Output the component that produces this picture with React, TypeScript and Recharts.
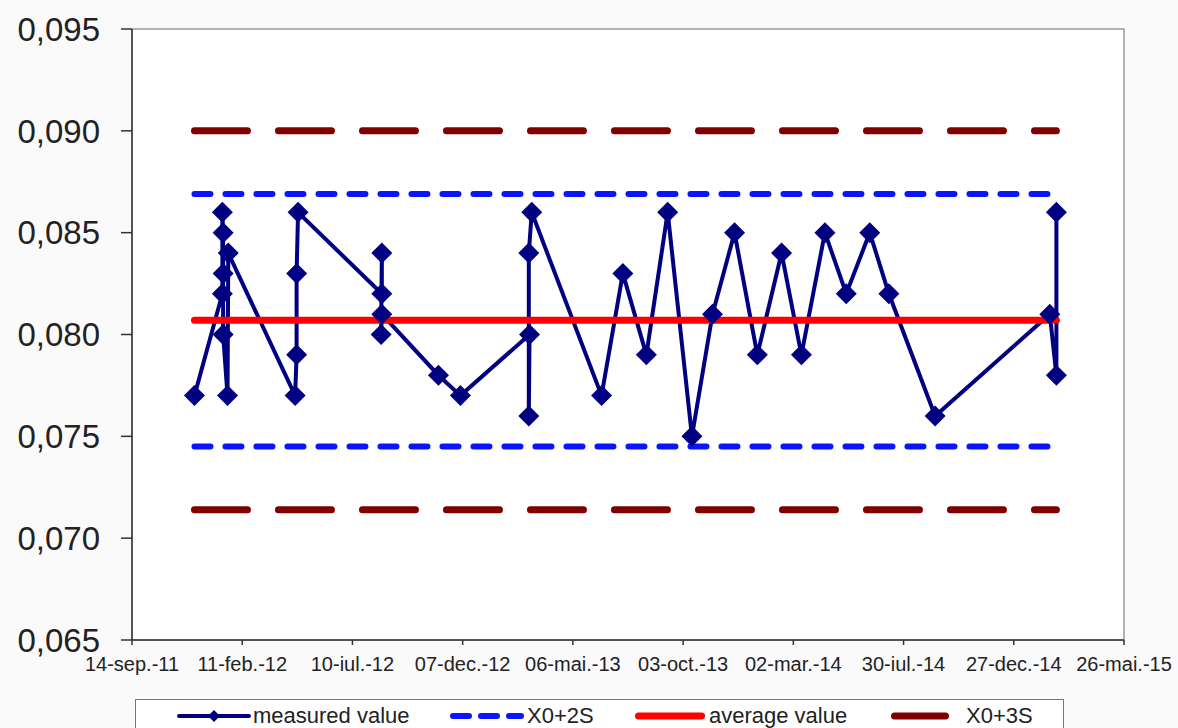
import React from 'react'
import { LineChart, Line, XAxis, YAxis, ReferenceArea } from 'recharts'

const measureDates = [
  '2011-12-08', '2012-01-15', '2012-01-15', '2012-01-16', '2012-01-16', '2012-01-16',
  '2012-01-22', '2012-01-23', '2012-04-23', '2012-04-25', '2012-04-25', '2012-04-27',
  '2012-08-19', '2012-08-19', '2012-08-18', '2012-08-19', '2012-11-04', '2012-12-04',
  '2013-03-08', '2013-03-07', '2013-03-07', '2013-03-11', '2013-06-14', '2013-07-13',
  '2013-08-14', '2013-09-12', '2013-10-15', '2013-11-12', '2013-12-12', '2014-01-12',
  '2014-02-14', '2014-03-13', '2014-04-14', '2014-05-13', '2014-06-14', '2014-07-10',
  '2014-09-11', '2015-02-14', '2015-02-23', '2015-02-23',
]
const measuredValues = [
  0.077, 0.082, 0.086, 0.085, 0.083, 0.080,
  0.077, 0.084, 0.077, 0.079, 0.083, 0.086,
  0.082, 0.084, 0.080, 0.081, 0.078, 0.077,
  0.080, 0.076, 0.084, 0.086, 0.077, 0.083,
  0.079, 0.086, 0.075, 0.081, 0.085, 0.079,
  0.084, 0.079, 0.085, 0.082, 0.085, 0.082,
  0.076, 0.081, 0.078, 0.086,
]

// control limits
const averageValue = 0.0807
const upper2S = 0.0869
const lower2S = 0.0745
const upper3S = 0.09
const lower3S = 0.0714

const xTickDates = [
  '2011-09-14', '2012-02-11', '2012-07-10', '2012-12-07', '2013-05-06',
  '2013-10-03', '2014-03-02', '2014-07-30', '2014-12-27', '2015-05-26',
]
const xTickLabels = [
  '14-sep.-11', '11-feb.-12', '10-iul.-12', '07-dec.-12', '06-mai.-13',
  '03-oct.-13', '02-mar.-14', '30-iul.-14', '27-dec.-14', '26-mai.-15',
]
const yTicks = [0.065, 0.07, 0.075, 0.08, 0.085, 0.09, 0.095]

const START = Date.UTC(2011, 8, 14)
const toDay = (s: string) => {
  const [y, m, d] = s.split('-').map(Number)
  return Math.round((Date.UTC(y, m - 1, d) - START) / 86400000)
}

const measured = measureDates.map((d, i) => ({ day: toDay(d), value: measuredValues[i] }))
const limitDays = [toDay(measureDates[0]), toDay(measureDates[measureDates.length - 1])]
const limits = limitDays.map((day) => ({
  day,
  avg: averageValue,
  u2: upper2S,
  l2: lower2S,
  u3: upper3S,
  l3: lower3S,
}))
const xTicks = xTickDates.map(toDay)

const NAVY = '#000080'
const BLUE = '#0a14ff'
const RED = '#ff0000'
const DARKRED = '#800000'
const FONT = '"Liberation Sans", Arial, sans-serif'

const Diamond = (props: any) => {
  const { cx, cy, index } = props
  if (cx == null || cy == null) return <g key={index} />
  const r = 10.5
  return (
    <path
      key={index}
      d={`M${cx},${cy - r}L${cx + r},${cy}L${cx},${cy + r}L${cx - r},${cy}Z`}
      fill={NAVY}
    />
  )
}

const legendItems = [
  { label: 'measured value', color: NAVY, left: 176, width: 74, dash: undefined, sw: 4, marker: true, textLeft: 253 },
  { label: 'X0+2S', color: BLUE, left: 449, width: 74, dash: '16 12', sw: 6, marker: false, textLeft: 527 },
  { label: 'average value', color: RED, left: 634, width: 70, dash: undefined, sw: 7, marker: false, textLeft: 709 },
  { label: 'X0+3S', color: DARKRED, left: 890, width: 58, dash: undefined, sw: 7, marker: false, textLeft: 966 },
]

function Legend() {
  return (
    <div
      style={{
        position: 'absolute',
        left: 135,
        top: 699,
        width: 927,
        height: 40,
        border: '1px solid #777',
        background: '#fff',
        fontFamily: FONT,
        fontSize: 22,
        color: '#222',
      }}
    >
      {legendItems.map((it) => (
        <React.Fragment key={it.label}>
          <svg
            width={it.width + 10}
            height={20}
            style={{ position: 'absolute', left: it.left - 135 - 5, top: 6 }}
          >
            <line
              x1={5 + it.sw / 2}
              x2={5 + it.width - it.sw / 2}
              y1={10}
              y2={10}
              stroke={it.color}
              strokeWidth={it.sw}
              strokeLinecap="round"
              strokeDasharray={it.dash}
            />
            {it.marker && (
              <path d={`M${5 + it.width / 2},4L${11 + it.width / 2},10L${5 + it.width / 2},16L${it.width / 2 - 1},10Z`} fill={it.color} />
            )}
          </svg>
          <span style={{ position: 'absolute', left: it.textLeft - 136, top: 3, whiteSpace: 'nowrap', lineHeight: '26px' }}>
            {it.label}
          </span>
        </React.Fragment>
      ))}
    </div>
  )
}

export default function App() {
  return (
    <div
      style={{
        position: 'absolute',
        left: 0,
        top: 0,
        width: 1178,
        height: 728,
        overflow: 'hidden',
        background: '#fafafa',
      }}
    >
      <LineChart
        width={1178}
        height={728}
        data={measured}
        margin={{ top: 29, right: 54, bottom: 58, left: 0 }}
      >
        <ReferenceArea
          x1={0}
          x2={1350}
          y1={0.065}
          y2={0.095}
          fill="#ffffff"
          fillOpacity={1}
          stroke="#9a9a9a"
          strokeWidth={1.5}
          ifOverflow="visible"
        />
        <XAxis
          dataKey="day"
          type="number"
          domain={[0, 1350]}
          ticks={xTicks}
          allowDataOverflow
          tickFormatter={(v: number) => xTickLabels[xTicks.indexOf(v)] ?? ''}
          height={30}
          tickSize={5}
          tickMargin={12}
          interval={0}
          axisLine={{ stroke: '#333', strokeWidth: 1.5 }}
          tickLine={{ stroke: '#333', strokeWidth: 1.5 }}
          tick={{ fontSize: 20, fill: '#222', fontFamily: FONT }}
        />
        <YAxis
          type="number"
          domain={[0.065, 0.095]}
          ticks={yTicks}
          allowDataOverflow
          width={132}
          tickSize={11}
          tickMargin={21}
          interval={0}
          tickFormatter={(v: number) => v.toFixed(3).replace('.', ',')}
          axisLine={{ stroke: '#333', strokeWidth: 1.5 }}
          tickLine={{ stroke: '#333', strokeWidth: 1.5 }}
          tick={{ fontSize: 33, fill: '#222', fontFamily: FONT }}
        />
        <Line
          dataKey="value"
          stroke={NAVY}
          strokeWidth={4}
          dot={Diamond}
          activeDot={false}
          isAnimationActive={false}
        />
        <Line data={limits} dataKey="u3" stroke={DARKRED} strokeWidth={7} strokeLinecap="round" strokeDasharray="53 31" dot={false} activeDot={false} isAnimationActive={false} />
        <Line data={limits} dataKey="l3" stroke={DARKRED} strokeWidth={7} strokeLinecap="round" strokeDasharray="53 31" dot={false} activeDot={false} isAnimationActive={false} />
        <Line data={limits} dataKey="u2" stroke={BLUE} strokeWidth={6} strokeLinecap="round" strokeDasharray="16 15" dot={false} activeDot={false} isAnimationActive={false} />
        <Line data={limits} dataKey="l2" stroke={BLUE} strokeWidth={6} strokeLinecap="round" strokeDasharray="16 15" dot={false} activeDot={false} isAnimationActive={false} />
        <Line data={limits} dataKey="avg" stroke={RED} strokeWidth={7} strokeLinecap="round" dot={false} activeDot={false} isAnimationActive={false} />
      </LineChart>
      <Legend />
    </div>
  )
}
